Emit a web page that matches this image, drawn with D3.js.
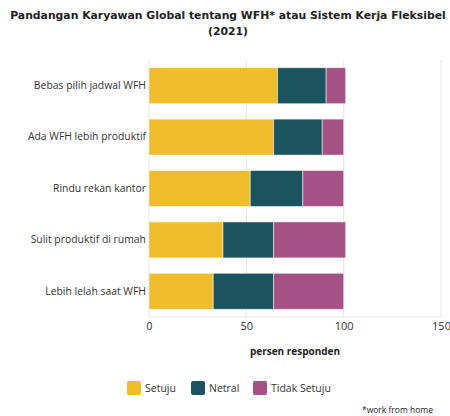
<!DOCTYPE html>
<html lang="id">
<head>
<meta charset="UTF-8">
<title>Pandangan Karyawan Global tentang WFH</title>
<script src="https://cdn.jsdelivr.net/npm/d3@7"></script>
<style>
    body { margin: 0; background: #fff; }
    svg { display: block; }
</style>
</head>
<body>
<svg id="chart" width="450" height="416"></svg>
<script>
// data
const categories = ["Bebas pilih jadwal WFH", "Ada WFH lebih produktif", "Rindu rekan kantor", "Sulit produktif di rumah", "Lebih lelah saat WFH"];
const setuju = [66, 64, 52, 38, 33];
const netral = [25, 25, 27, 26, 31];
const tidakSetuju = [10, 11, 21, 37, 36];
const seriesNames = ["Setuju", "Netral", "Tidak Setuju"];
const seriesColors = ["#efbd2b", "#1b535e", "#a55185"];
const xTicks = [0, 50, 100, 150];

const font = "'Segoe UI', 'Open Sans', sans-serif";
const svg = d3.select("#chart");

const margin = { top: 60, left: 149, right: 9, bottom: 99 };
const width = 450, height = 416;

const rows = categories.map((c, i) => ({ cat: c, Setuju: setuju[i], Netral: netral[i], "Tidak Setuju": tidakSetuju[i] }));
const stacked = d3.stack().keys(seriesNames)(rows);

const x = d3.scaleLinear().domain([0, 150]).range([margin.left, width - margin.right]);
const y = d3.scaleBand().domain(categories).range([margin.top, height - margin.bottom]).paddingInner(0.3).paddingOuter(0.15);
const color = d3.scaleOrdinal().domain(seriesNames).range(seriesColors);

// title - shrink first line to fit the reference width
const title = svg.append("text")
    .attr("x", 228).attr("y", 19)
    .attr("text-anchor", "middle")
    .attr("font-family", "'DejaVu Sans', Verdana, sans-serif")
    .attr("font-weight", "bold")
    .attr("font-size", "11.5px")
    .attr("fill", "#222");
title.selectAll("tspan")
    .data(["Pandangan Karyawan Global tentang WFH* atau Sistem Kerja Fleksibel", "(2021)"])
    .join("tspan")
    .attr("x", 228)
    .attr("dy", (d, i) => i === 0 ? 0 : 16)
    .text(d => d);
const firstW = title.select("tspan").node().getComputedTextLength();
title.attr("font-size", (11.5 * 436 / firstW) + "px");

// gridlines
svg.append("g")
    .selectAll("line")
    .data(xTicks)
    .join("line")
    .attr("x1", d => x(d)).attr("x2", d => x(d))
    .attr("y1", margin.top).attr("y2", height - margin.bottom)
    .attr("stroke", "#e6e6e6")
    .attr("stroke-width", 1);

svg.append("line")
    .attr("x1", margin.left).attr("x2", width - margin.right)
    .attr("y1", height - margin.bottom).attr("y2", height - margin.bottom)
    .attr("stroke", "#e6e6e6");

// bars
svg.append("g")
    .selectAll("g")
    .data(stacked)
    .join("g")
    .attr("fill", d => color(d.key))
    .selectAll("rect")
    .data(d => d)
    .join("rect")
    .attr("x", d => x(d[0]))
    .attr("y", d => y(d.data.cat))
    .attr("width", d => x(d[1]) - x(d[0]))
    .attr("height", y.bandwidth())
    .attr("stroke", "rgba(255,255,255,0.5)")
    .attr("stroke-width", 1);

// x axis
const xAxis = svg.append("g")
    .attr("transform", `translate(0,${height - margin.bottom})`)
    .call(d3.axisBottom(x).tickValues(xTicks).tickSize(0).tickPadding(5));
xAxis.select(".domain").remove();
xAxis.selectAll("text")
    .attr("font-family", font)
    .attr("font-size", "11px")
    .attr("fill", "#333");

// y axis labels
const yAxis = svg.append("g")
    .attr("transform", `translate(${margin.left},0)`)
    .call(d3.axisLeft(y).tickSize(0).tickPadding(3));
yAxis.select(".domain").remove();
yAxis.selectAll("text")
    .attr("font-family", font)
    .attr("font-size", "10.4px")
    .attr("fill", "#333");

// axis title
svg.append("text")
    .attr("x", 295).attr("y", 355)
    .attr("text-anchor", "middle")
    .attr("font-family", font)
    .attr("font-weight", "bold")
    .attr("font-size", "10px")
    .attr("fill", "#222")
    .text("persen responden");

// legend
const legendX = [127, 191, 253];
const legend = svg.append("g")
    .selectAll("g")
    .data(seriesNames)
    .join("g")
    .attr("transform", (d, i) => `translate(${legendX[i]},381)`);
legend.append("rect")
    .attr("width", 14).attr("height", 14)
    .attr("rx", 2)
    .attr("fill", d => color(d));
legend.append("text")
    .attr("x", 18).attr("y", 7)
    .attr("dy", "0.35em")
    .attr("font-family", font)
    .attr("font-size", "10.5px")
    .attr("fill", "#333")
    .text(d => d);

// footnote
svg.append("text")
    .attr("x", 433).attr("y", 413)
    .attr("text-anchor", "end")
    .attr("font-family", font)
    .attr("font-size", "8.5px")
    .attr("fill", "#222")
    .text("*work from home");
</script>
</body>
</html>
